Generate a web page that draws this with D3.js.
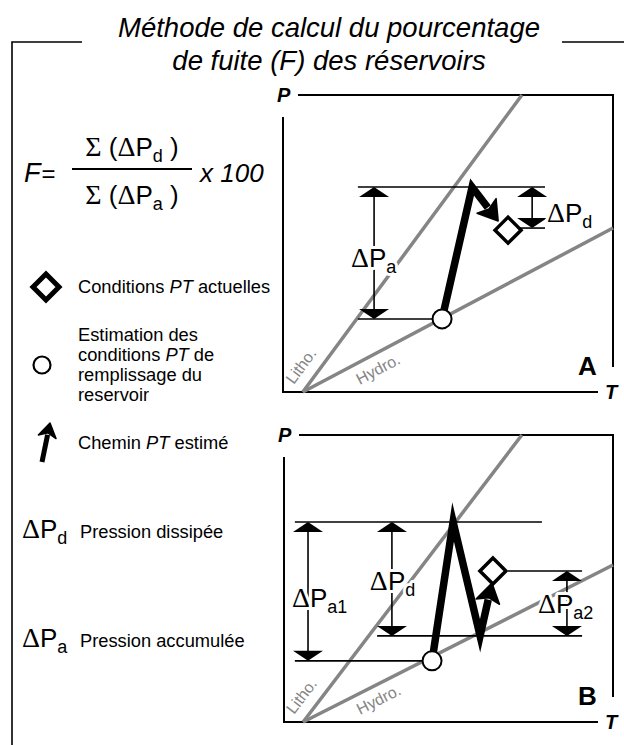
<!DOCTYPE html>
<html><head><meta charset="utf-8">
<script src="https://cdn.jsdelivr.net/npm/d3@7"></script>
<style>
html,body{margin:0;padding:0;background:#fff;}
svg{display:block;}
text{font-family:"Liberation Sans",Arial,sans-serif;}
</style></head>
<body><svg id="c" width="624" height="745"></svg>
<script>
// ---------- DATA ----------
const titleLines = ["Méthode de calcul du pourcentage", "de fuite (F) des réservoirs"];
const legendItems = ["Conditions PT actuelles"];
const fillingLines = ["Estimation des", "conditions PT de", "remplissage du", "reservoir"];
const pathLabel = "Chemin PT estimé";
const deltaLegend = [["d", "Pression dissipée"], ["a", "Pression accumulée"]];
const panelNames = ["A", "B"];
const axisLabels = ["P", "T"];
const gradientNames = ["Litho.", "Hydro."];

// geotherms (T, P) in panel units 0..100
const lithoA = [[6, 0], [72.4, 100]];
const hydroA = [[6, 0], [100, 55.2]];
const lithoB = [[5.8, 0], [72.3, 100]];
const hydroB = [[5.8, 0], [100, 54.7]];

// estimated PT paths (first point = filling conditions, last = arrow tip)
const pathA = [[48.2, 24.6], [57.3, 69.0], [65.2, 57.6]];
const pathB = [[45.0, 21.3], [51.4, 69.7], [59.6, 30.0], [63.2, 48.4]];
// present-day PT conditions
const presentA = [68.2, 54.5];
const presentB = [63.5, 52.6];

// horizontal reference lines [T start, T end, P]
const hlinesA = [[22.7, 79.4, 69.0], [22.7, 48.2, 24.6], [70.9, 79.4, 55.2]];
const hlinesB = [[3.3, 78.4, 69.7], [3.3, 45.0, 21.3], [28.3, 90.6, 30.0], [68.1, 90.6, 52.6]];

// dimension arrows [T, P low, P high]
const dimsA = [[27.6, 24.6, 69.0], [75.5, 55.2, 69.0]];
const dimsB = [[7.3, 21.3, 69.7], [32.8, 30.0, 69.7], [86.0, 30.0, 52.6]];
// dimension labels [T, P, subscript]
const dimLabelsA = [[20.6, 42.1, "a"], [80.0, 57.2, "d"]];
const dimLabelsB = [[2.4, 40.1, "a1"], [26.1, 46.0, "d"], [77.2, 38.0, "a2"]];

// ---------- DRAW ----------
const svg = d3.select("#c");
const GRAY = "#858585";
const SERIF = '"Liberation Serif","Times New Roman",serif';

// outer frame
svg.append("path").attr("d", "M82,42H12V745M562,42H624")
  .attr("fill", "none").attr("stroke", "#000").attr("stroke-width", 1.6);

// title
svg.selectAll("text.title").data(titleLines).join("text")
  .attr("class", "title")
  .attr("x", 329).attr("y", (d, i) => 37 + i * 33)
  .attr("text-anchor", "middle").attr("font-size", 27.5)
  .attr("font-style", "italic").text(d => d);

// formula
const fx = svg.append("g");
fx.append("text").attr("x", 24).attr("y", 182).attr("font-size", 27)
  .attr("font-style", "italic").text("F")
  .append("tspan").attr("font-style", "normal").attr("font-size", 24).attr("dx", 1).text("=");
fx.append("line").attr("x1", 72).attr("x2", 192).attr("y1", 169).attr("y2", 169)
  .attr("stroke", "#000").attr("stroke-width", 2);
function sumTerm(y, sub) {
  const t = fx.append("text").attr("x", 132).attr("y", y).attr("text-anchor", "middle").attr("font-size", 26);
  t.append("tspan").attr("font-family", SERIF).attr("font-size", 28).text("Σ");
  t.append("tspan").text(" (");
  t.append("tspan").attr("font-family", SERIF).attr("font-size", 28).text("Δ");
  t.append("tspan").text("P");
  t.append("tspan").attr("font-size", 18).attr("dy", 6).text(sub);
  t.append("tspan").attr("dy", -6).text(" )");
}
sumTerm(156, "d");
sumTerm(204, "a");
fx.append("text").attr("x", 200).attr("y", 182).attr("font-size", 26)
  .attr("font-style", "italic").text("x 100");

// legend
const lg = svg.append("g");
function diamondPath(cx, cy, r) {
  return `M${cx},${cy - r}L${cx + r},${cy}L${cx},${cy + r}L${cx - r},${cy}Z`;
}
lg.append("path").attr("d", diamondPath(46, 287, 13)).attr("fill", "#fff")
  .attr("stroke", "#000").attr("stroke-width", 5);
function ptText(x, y, str) {
  const t = lg.append("text").attr("x", x).attr("y", y).attr("font-size", 18.3);
  const parts = str.split("PT");
  t.append("tspan").text(parts[0]);
  if (parts.length > 1) {
    t.append("tspan").attr("font-style", "italic").text("PT");
    t.append("tspan").text(parts[1]);
  }
}
ptText(78, 293, legendItems[0]);
lg.append("circle").attr("cx", 42).attr("cy", 365).attr("r", 8.5)
  .attr("fill", "#fff").attr("stroke", "#000").attr("stroke-width", 2.2);
fillingLines.forEach((s, i) => ptText(78, 341 + i * 20, s));
ptText(78, 449, pathLabel);

// generic arrowhead drawn at tip along direction from p0 to p1
function thickArrow(g, pts, width, headLen, headHalf) {
  const n = pts.length;
  const [x0, y0] = pts[n - 2], [x1, y1] = pts[n - 1];
  const dx = x1 - x0, dy = y1 - y0, L = Math.hypot(dx, dy);
  const ux = dx / L, uy = dy / L, nx = -uy, ny = ux;
  const bx = x1 - ux * headLen, by = y1 - uy * headLen;
  const linePts = pts.slice(0, n - 1).concat([[bx + ux * 2, by + uy * 2]]);
  g.append("path").attr("d", d3.line()(linePts)).attr("fill", "none")
    .attr("stroke", "#000").attr("stroke-width", width)
    .attr("stroke-linejoin", "miter").attr("stroke-miterlimit", 10);
  g.append("path").attr("d",
    `M${x1},${y1}L${bx + nx * headHalf},${by + ny * headHalf}L${bx + ux * 4},${by + uy * 4}L${bx - nx * headHalf},${by - ny * headHalf}Z`)
    .attr("fill", "#000").attr("stroke", "#000").attr("stroke-width", 1.5).attr("stroke-linejoin", "round");
}
thickArrow(lg, [[42, 462], [50, 423]], 5, 14, 9);

// delta legends
deltaLegend.forEach(([sub, lab], i) => {
  const y = 538 + i * 109;
  const t = lg.append("text").attr("x", 22).attr("y", y).attr("font-size", 26);
  t.append("tspan").attr("font-family", SERIF).attr("font-size", 28).text("Δ");
  t.append("tspan").text("P");
  t.append("tspan").attr("font-size", 18).attr("dy", 6).text(sub);
  lg.append("text").attr("x", 80).attr("y", y).attr("font-size", 18.3).text(lab);
});

// ---------- PANELS ----------
const panels = [
  {name: panelNames[0], x: [283, 613], y: [392, 95], litho: lithoA, hydro: hydroA, path: pathA, present: presentA,
   hlines: hlinesA, dims: dimsA, dimLabels: dimLabelsA},
  {name: panelNames[1], x: [284, 613], y: [722, 435], litho: lithoB, hydro: hydroB, path: pathB, present: presentB,
   hlines: hlinesB, dims: dimsB, dimLabels: dimLabelsB}
];

panels.forEach(p => {
  const xs = d3.scaleLinear().domain([0, 100]).range(p.x);
  const ys = d3.scaleLinear().domain([0, 100]).range(p.y);
  const g = svg.append("g");
  const [x0, x1] = p.x, [yb, yt] = p.y;
  g.append("path").attr("d",
    `M${x0 + 15},${yt}H${x1}V${yb - 25}M${x0},${yt + 22}V${yb}H${x1 - 15}`)
    .attr("fill", "none").attr("stroke", "#000").attr("stroke-width", 2);
  g.append("text").attr("x", x0 - 6).attr("y", yt + 7).attr("font-size", 20).attr("font-weight", "bold")
    .attr("font-style", "italic").text(axisLabels[0]);
  g.append("text").attr("x", x1 - 8).attr("y", yb + 7).attr("font-size", 20).attr("font-weight", "bold")
    .attr("font-style", "italic").text(axisLabels[1]);
  g.append("text").attr("x", x1 - 35).attr("y", yb - 17).attr("font-size", 26).attr("font-weight", "bold")
    .text(p.name);

  // geotherms
  [p.litho, p.hydro].forEach(l => {
    g.append("line").attr("x1", xs(l[0][0])).attr("y1", ys(l[0][1]))
      .attr("x2", xs(l[1][0])).attr("y2", ys(l[1][1]))
      .attr("stroke", GRAY).attr("stroke-width", 3.5);
  });
  const ox = xs(p.litho[0][0]), oy = ys(0);
  const angL = Math.atan2(ys(p.litho[1][1]) - oy, xs(p.litho[1][0]) - ox) * 180 / Math.PI;
  const angH = Math.atan2(ys(p.hydro[1][1]) - oy, xs(p.hydro[1][0]) - ox) * 180 / Math.PI;
  g.append("text").attr("transform", `translate(${ox - 9},${oy - 7}) rotate(${angL})`)
    .attr("font-size", 16).attr("fill", GRAY).text(gradientNames[0]);
  g.append("text").attr("transform", `translate(${ox + 57},${oy - 7}) rotate(${angH})`)
    .attr("font-size", 16).attr("fill", GRAY).text(gradientNames[1]);

  p.hlines.forEach(h => {
    g.append("line").attr("x1", xs(h[0])).attr("x2", xs(h[1])).attr("y1", ys(h[2])).attr("y2", ys(h[2]))
      .attr("stroke", "#000").attr("stroke-width", 1.6);
  });
  p.dims.forEach(dm => {
    const x = xs(dm[0]), ylo = ys(dm[1]), yhi = ys(dm[2]);
    g.append("line").attr("x1", x).attr("x2", x).attr("y1", yhi + 5).attr("y2", ylo - 5)
      .attr("stroke", "#000").attr("stroke-width", 1.6);
    g.append("path").attr("d", `M${x},${yhi}L${x + 15},${yhi + 10}L${x - 15},${yhi + 10}Z`).attr("fill", "#000");
    g.append("path").attr("d", `M${x},${ylo}L${x + 15},${ylo - 10}L${x - 15},${ylo - 10}Z`).attr("fill", "#000");
  });
  thickArrow(g, p.path.map(d => [xs(d[0]), ys(d[1])]), 7.5, 19, 12);
  g.append("circle").attr("cx", xs(p.path[0][0])).attr("cy", ys(p.path[0][1])).attr("r", 9.5)
    .attr("fill", "#fff").attr("stroke", "#000").attr("stroke-width", 2);
  g.append("path").attr("d", diamondPath(xs(p.present[0]), ys(p.present[1]), 13))
    .attr("fill", "#fff").attr("stroke", "#000").attr("stroke-width", 3.5);
  p.dimLabels.forEach(dl => {
    const t = g.append("text").attr("x", xs(dl[0])).attr("y", ys(dl[1])).attr("font-size", 26)
      .attr("stroke", "#fff").attr("stroke-width", 6).attr("paint-order", "stroke")
      .attr("stroke-linejoin", "round");
    t.append("tspan").attr("font-family", SERIF).attr("font-size", 28).text("Δ");
    t.append("tspan").text("P");
    t.append("tspan").attr("font-size", 18).attr("dy", 6).text(dl[2]);
  });
});
</script></body></html>
